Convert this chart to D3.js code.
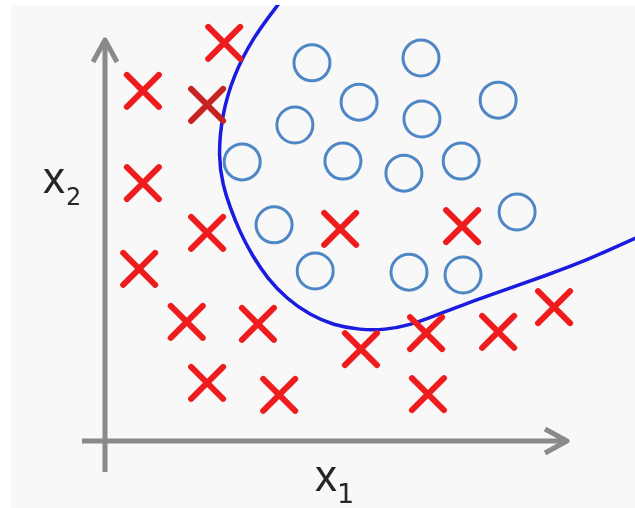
<!DOCTYPE html>
<html>
<head>
<meta charset="utf-8">
<script src="https://cdn.jsdelivr.net/npm/d3@7"></script>
<style>
  html, body { margin: 0; padding: 0; background: #ffffff; }
  svg { display: block; }
</style>
</head>
<body>
<svg id="chart" width="635" height="508"></svg>
<script>
// ---- Data (in axis units 0..100) ----
const crossX = [25.8, 8.2, 22.1, 8.2, 22.1, 7.4, 17.7, 33.1, 22.1, 37.7, 50.9, 77.3, 55.4, 69.5, 85.1, 97.2, 69.9];
const crossY = [99.3, 87.3, 83.8, 64.3, 51.9, 42.9, 29.7, 29.2, 14.5, 11.5, 52.9, 53.6, 22.9, 26.9, 27.2, 33.4, 11.7];
const circleX = [44.8, 68.4, 55.0, 41.1, 68.6, 85.1, 29.7, 51.5, 64.7, 77.1, 36.6, 89.2, 45.5, 65.8, 77.5];
const circleY = [94.3, 95.5, 84.5, 78.8, 80.3, 85.0, 69.6, 69.8, 66.8, 69.8, 53.9, 57.1, 42.4, 42.1, 41.4];
// decision boundary
const boundaryX = [39.8, 38.3, 32.0, 27.7, 25.3, 24.5, 25.5, 27.1, 29.2, 31.8, 35.1, 39.4, 44.4, 49.4, 55.2, 60.6, 66.0, 71.4, 77.9, 88.3, 95.7, 102.8, 110.0, 115.8];
const boundaryY = [112.5, 110.0, 100.7, 90.8, 81.3, 70.8, 63.8, 58.1, 52.1, 46.4, 40.6, 35.4, 31.4, 28.9, 27.7, 27.7, 28.9, 31.2, 34.2, 38.4, 41.4, 44.4, 48.1, 51.1];
const xLabel = ["x", "1"];
const yLabel = ["x", "2"];

const svg = d3.select("#chart");
const W = 635, H = 508;

const x = d3.scaleLinear().domain([0, 100]).range([105, 567]);
const y = d3.scaleLinear().domain([0, 100]).range([441, 40]);

// background
svg.append("rect").attr("x", 0).attr("y", 0).attr("width", W).attr("height", H).attr("fill", "#ffffff");
svg.append("rect").attr("x", 11).attr("y", 5).attr("width", W - 11).attr("height", H - 5).attr("fill", "#f8f8f8");

const defs = svg.append("defs");
defs.append("filter").attr("id", "soft")
  .append("feGaussianBlur").attr("stdDeviation", 0.5);
defs.append("clipPath").attr("id", "clip")
  .append("rect").attr("x", 11).attr("y", 5).attr("width", W - 11).attr("height", H - 5);

const g = svg.append("g").attr("filter", "url(#soft)");

// axes
const axisColor = "#8a8a8a";
const ax = g.append("g").attr("stroke", axisColor).attr("stroke-width", 5).attr("fill", "none")
  .attr("stroke-linecap", "butt").attr("stroke-linejoin", "round");
ax.append("line").attr("x1", x(0)).attr("x2", x(0)).attr("y1", y(-7.7)).attr("y2", y(100) + 1);
ax.append("line").attr("x1", x(-5)).attr("x2", x(100) - 1).attr("y1", y(0)).attr("y2", y(0));
ax.append("path").attr("d", `M${x(0) - 12},${y(100) + 22} L${x(0)},${y(100)} L${x(0) + 12},${y(100) + 22}`);
ax.append("path").attr("d", `M${x(100) - 22},${y(0) - 12} L${x(100)},${y(0)} L${x(100) - 22},${y(0) + 12}`);

// boundary curve
const bpts = boundaryX.map((v, i) => [v, boundaryY[i]]);
const line = d3.line().x(d => x(d[0])).y(d => y(d[1])).curve(d3.curveBasis);
g.append("g").attr("clip-path", "url(#clip)")
  .append("path").attr("d", line(bpts)).attr("fill", "none")
  .attr("stroke", "#1a1ae0").attr("stroke-width", 3.5).attr("stroke-linecap", "round");

// circles
g.append("g").selectAll("circle").data(circleX.map((v, i) => [v, circleY[i]])).join("circle")
  .attr("cx", d => x(d[0])).attr("cy", d => y(d[1])).attr("r", 18)
  .attr("fill", "none").attr("stroke", "#4f86c6").attr("stroke-width", 3);

// crosses
const s = 16;
const crosses = g.append("g").selectAll("g").data(crossX.map((v, i) => [v, crossY[i], i])).join("g")
  .attr("transform", d => `translate(${x(d[0])},${y(d[1])})`)
  .attr("stroke", d => d[2] === 2 ? "#c62424" : "#ee1f1f")
  .attr("stroke-width", 6).attr("stroke-linecap", "round");
crosses.append("line").attr("x1", -s).attr("y1", -s).attr("x2", s).attr("y2", s);
crosses.append("line").attr("x1", -s).attr("y1", s).attr("x2", s).attr("y2", -s);

// labels
const tc = "#262626";
const yl = g.append("text").attr("x", 43).attr("y", 193).attr("fill", tc);
yl.append("tspan").attr("font-family", "Liberation Sans, Arial, sans-serif").attr("font-size", 44).text(yLabel[0]);
yl.append("tspan").attr("font-family", "DejaVu Sans, sans-serif").attr("font-size", 24).attr("dx", 1).attr("dy", 12).text(yLabel[1]);

const xl = g.append("text").attr("x", 315).attr("y", 491).attr("fill", tc);
xl.append("tspan").attr("font-family", "Liberation Sans, Arial, sans-serif").attr("font-size", 44).text(xLabel[0]);
xl.append("tspan").attr("font-family", "DejaVu Sans, sans-serif").attr("font-size", 27).attr("dx", 0).attr("dy", 12).text(xLabel[1]);
</script>
</body>
</html>
